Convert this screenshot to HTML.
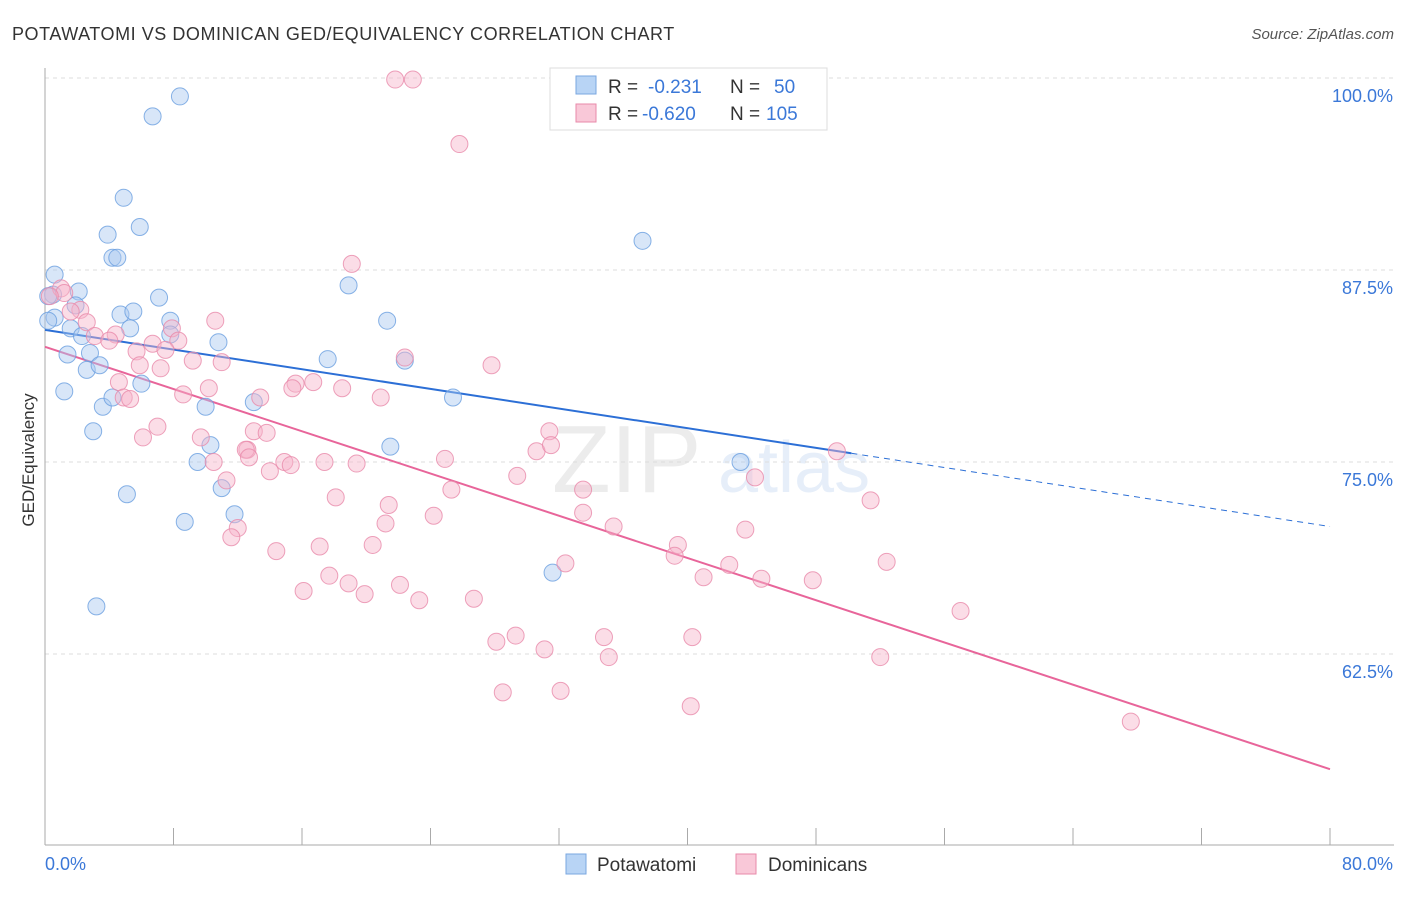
<!DOCTYPE html>
<html><head><meta charset="utf-8"><style>
body{margin:0;background:#fff;font-family:"Liberation Sans",sans-serif;}
svg text{font-family:"Liberation Sans",sans-serif;}
</style></head><body>
<svg id="c" width="1406" height="892" xmlns="http://www.w3.org/2000/svg">
<text x="12" y="40" font-size="18" fill="#333" letter-spacing="0.55">POTAWATOMI VS DOMINICAN GED/EQUIVALENCY CORRELATION CHART</text>
<text x="1394" y="39" font-size="15" fill="#555" text-anchor="end" font-style="italic">Source: ZipAtlas.com</text>
<text x="34" y="460" font-size="17" fill="#333" text-anchor="middle" transform="rotate(-90 34 460)">GED/Equivalency</text>
<g opacity="0.18"><text x="552" y="492" font-size="96" font-family="Liberation Serif" fill="#999">ZIP</text><text x="718" y="492" font-size="72" fill="#7aa7e0">atlas</text></g>
<g id="grid"></g><g id="axes"></g><g id="lines"></g><g id="pts"></g>
<g>
<rect x="550" y="68" width="277" height="62" fill="#fff" stroke="#ddd"/>
<rect x="576" y="76" width="20" height="18" fill="#b8d4f5" stroke="#7aa7e0"/>
<text x="608" y="93" font-size="19" fill="#333">R = </text><text x="648" y="93" font-size="19" fill="#3b78d8">-0.231</text>
<text x="730" y="93" font-size="19" fill="#333">N = </text><text x="774" y="93" font-size="19" fill="#3b78d8">50</text>
<rect x="576" y="104" width="20" height="18" fill="#f9c8d8" stroke="#e88aaa"/>
<text x="608" y="120" font-size="19" fill="#333">R = </text><text x="642" y="120" font-size="19" fill="#3b78d8">-0.620</text>
<text x="730" y="120" font-size="19" fill="#333">N = </text><text x="766" y="120" font-size="19" fill="#3b78d8">105</text>
</g>
<g>
<rect x="566" y="854" width="20" height="20" fill="#b8d4f5" stroke="#7aa7e0"/><text x="597" y="871" font-size="19" fill="#333">Potawatomi</text>
<rect x="736" y="854" width="20" height="20" fill="#f9c8d8" stroke="#e88aaa"/><text x="768" y="871" font-size="19" fill="#333">Dominicans</text>
</g>
</svg>
<script>
const blueX=[8.4,6.7,4.9,5.9,3.9,4.2,4.5,0.6,37.2,0.5,2.1,7.1,18.9,1.9,4.7,5.5,7.8,21.3,0.6,0.2,1.6,5.3,2.3,7.8,10.8,1.4,2.8,17.6,22.4,2.6,3.4,1.2,6.0,3.6,4.2,10.0,13.0,25.4,3.0,10.3,21.5,9.5,43.3,11.0,5.1,11.8,8.7,31.6,3.2,0.2];
const blueY=[98.8,97.5,92.2,90.3,89.8,88.3,88.3,87.2,89.4,85.9,86.1,85.7,86.5,85.2,84.6,84.8,84.2,84.2,84.4,84.2,83.7,83.7,83.2,83.3,82.8,82.0,82.1,81.7,81.6,81.0,81.3,79.6,80.1,78.6,79.2,78.6,78.9,79.2,77.0,76.1,76.0,75.0,75.0,73.3,72.9,71.6,71.1,67.8,65.6,85.8];
const pinkX=[21.8,22.9,25.8,19.1,1.0,1.2,0.3,2.2,1.6,2.6,10.6,3.1,4.4,4.0,7.9,8.3,6.7,5.7,7.5,9.2,11.0,27.8,22.4,7.2,5.9,4.6,10.2,4.9,5.3,8.6,13.4,15.6,16.7,18.5,20.9,15.4,12.6,6.1,7.0,9.7,13.0,13.8,12.5,10.5,12.7,14.9,15.3,17.4,19.4,24.9,31.4,30.6,31.5,14.0,11.3,25.3,29.4,49.3,44.2,51.4,18.1,21.4,21.2,24.2,33.5,33.5,35.4,12.0,11.6,17.1,20.4,14.4,39.4,39.2,43.6,32.4,42.6,52.4,17.7,18.9,22.1,16.1,19.9,23.3,26.7,41.0,44.6,47.8,57.0,29.3,28.1,34.8,40.3,31.1,35.1,52.0,28.5,32.1,40.2,67.6];
const pinkY=[99.9,99.9,95.7,87.9,86.3,86.0,85.8,84.9,84.8,84.1,84.2,83.2,83.3,82.9,83.7,82.9,82.7,82.2,82.3,81.6,81.5,81.3,81.8,81.1,81.3,80.2,79.8,79.2,79.1,79.4,79.2,80.1,80.2,79.8,79.2,79.8,75.8,76.6,77.3,76.6,77.0,76.9,75.8,75.0,75.3,75.0,74.8,75.0,74.9,75.2,77.0,75.7,76.1,74.4,73.8,73.2,74.1,75.7,74.0,72.5,72.7,72.2,71.0,71.5,73.2,71.7,70.8,70.7,70.1,69.5,69.6,69.2,69.6,68.9,70.6,68.4,68.3,68.5,67.6,67.1,67.0,66.6,66.4,66.0,66.1,67.5,67.4,67.3,65.3,63.7,63.3,63.6,63.6,62.8,62.3,62.3,60.0,60.1,59.1,58.1];
const yTicks=[100,87.5,75,62.5];
const xTicks=[0,8,16,24,32,40,48,56,64,72,80];
const blueTrend=[83.6,70.8];
const pinkTrend=[82.5,55.0];
const blueSolidEnd=50.2;
const X=v=>45+v/80*1285, Y=v=>78+(100-v)/12.5*192;
const NS="http://www.w3.org/2000/svg";
function mk(p,t,a){const e=document.createElementNS(NS,t);for(const k in a)e.setAttribute(k,a[k]);document.getElementById(p).appendChild(e);return e;}
yTicks.forEach(v=>{
 const l=mk('grid','line',{x1:45,x2:1394,y1:Y(v),y2:Y(v),stroke:'#ddd','stroke-dasharray':'4,4'});
 
 
 const t=mk('grid','text',{x:1393,y:Y(v)+24,'font-size':18,fill:'#3b78d8','text-anchor':'end'});t.textContent=v.toFixed(1)+'%';
 
 
});
const ax=mk('axes','line',{x1:45,x2:1394,y1:845,y2:845,stroke:'#aaa'});


const ay=mk('axes','line',{x1:45,x2:45,y1:68,y2:845,stroke:'#aaa'});


xTicks.forEach(v=>{const t=mk('axes','line',{x1:X(v),x2:X(v),y1:828,y2:845,stroke:'#aaa'});
 
 });
const t0=mk('axes','text',{x:45,y:870,'font-size':18,fill:'#3b78d8'});t0.textContent=xTicks[0].toFixed(1)+'%';


const t1=mk('axes','text',{x:1393,y:870,'font-size':18,fill:'#3b78d8','text-anchor':'end'});t1.textContent=xTicks[xTicks.length-1].toFixed(1)+'%';


function draw(xs,ys,fill,stroke,name){xs.forEach((x,i)=>{const c=mk('pts','circle',{cx:X(x),cy:Y(ys[i]),r:8.5,fill:fill,'fill-opacity':0.45,stroke:stroke,'stroke-opacity':0.8,'stroke-width':1});
 
 });}
draw(blueX,blueY,'#a8c8f0','#6a9fe0','potawatomi-point');
draw(pinkX,pinkY,'#f6b4ca','#e88aaa','dominican-point');
const by=v=>blueTrend[0]+(blueTrend[1]-blueTrend[0])*v/80;
const b1=mk('lines','line',{x1:X(0),y1:Y(by(0)),x2:X(blueSolidEnd),y2:Y(by(blueSolidEnd)),stroke:'#2c6fd6','stroke-width':2});


const b2=mk('lines','line',{x1:X(blueSolidEnd),y1:Y(by(blueSolidEnd)),x2:X(80),y2:Y(by(80)),stroke:'#2c6fd6','stroke-width':1,'stroke-dasharray':'6,5'});


const p1=mk('lines','line',{x1:X(0),y1:Y(pinkTrend[0]),x2:X(80),y2:Y(pinkTrend[1]),stroke:'#e8659a','stroke-width':2});


</script>
</body></html>
